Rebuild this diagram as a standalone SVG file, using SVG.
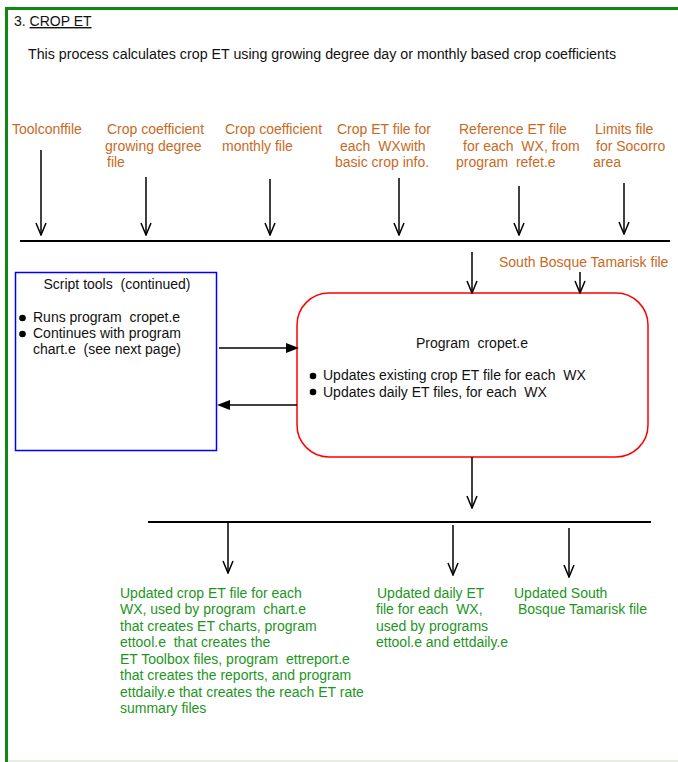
<svg xmlns="http://www.w3.org/2000/svg" width="678" height="762" viewBox="0 0 678 762">
<defs>
<style>
text{font-family:"Liberation Sans",Arial,sans-serif;white-space:pre;}
.t{font-size:14px;fill:#111;}
.o{font-size:14px;fill:#C86A1E;}
.g{font-size:14px;fill:#1E951E;}
.k{font-size:14px;fill:#111;}
.ln{stroke:#000;stroke-width:2;fill:none;}
.ar{stroke:#000;stroke-width:1.5;fill:none;}
</style>
<marker id="v" markerWidth="14" markerHeight="12" refX="13" refY="6" orient="auto" markerUnits="userSpaceOnUse" viewBox="0 0 14 12">
<path d="M1,1 L13,6 L1,11" fill="none" stroke="#000" stroke-width="1.5"/>
</marker>
</defs>
<rect x="0" y="0" width="678" height="762" fill="#fff"/>
<g id="frame">
<path d="M6.5,762 V8.5 H678" fill="none" stroke="#118811" stroke-width="3"/>
<line x1="8" y1="761" x2="678" y2="761" stroke="#d8ead8" stroke-width="1.5"/>
</g>
<g id="title">
<text class="t" x="14" y="26" xml:space="preserve">3. <tspan text-decoration="underline">CROP ET</tspan></text>
<text class="t" x="28" y="59" textLength="588" lengthAdjust="spacingAndGlyphs">This process calculates crop ET using growing degree day or monthly based crop coefficients</text>
</g>
<g id="inputs">
<text class="o" x="12" y="134">Toolconffile</text>
<text class="o" x="107" y="134">Crop coefficient</text>
<text class="o" x="105" y="151">growing degree</text>
<text class="o" x="107" y="167">file</text>
<text class="o" x="225" y="134">Crop coefficient</text>
<text class="o" x="222" y="151">monthly file</text>
<text class="o" x="337" y="134">Crop ET file for</text>
<text class="o" x="340" y="151" xml:space="preserve">each  WXwith</text>
<text class="o" x="335" y="167">basic crop info.</text>
<text class="o" x="459" y="134">Reference ET file</text>
<text class="o" x="463" y="151" xml:space="preserve">for each  WX, from</text>
<text class="o" x="456" y="167" xml:space="preserve">program  refet.e</text>
<text class="o" x="595" y="134">Limits file</text>
<text class="o" x="596" y="151">for Socorro</text>
<text class="o" x="593" y="167">area</text>
<text class="o" x="499" y="267">South Bosque Tamarisk file</text>
</g>
<g id="script-tools">
<rect x="15.5" y="272.5" width="201" height="178" fill="#fff" stroke="#0000ff" stroke-width="1.5"/>
<text class="k" x="117" y="289" text-anchor="middle" xml:space="preserve">Script tools  (continued)</text>
<circle cx="22.5" cy="318" r="3.3" fill="#000"/>
<circle cx="22.5" cy="334" r="3.3" fill="#000"/>
<text class="t" x="33" y="322" xml:space="preserve">Runs program  cropet.e</text>
<text class="t" x="33" y="338">Continues with program</text>
<text class="t" x="33" y="354" xml:space="preserve">chart.e  (see next page)</text>
</g>
<g id="program-cropet">
<rect x="297" y="293" width="351" height="164" rx="32" ry="32" fill="#fff" stroke="#ff0000" stroke-width="1.5"/>
<text class="k" x="472" y="348" text-anchor="middle" xml:space="preserve">Program  cropet.e</text>
<circle cx="313" cy="376" r="3.3" fill="#000"/>
<circle cx="313" cy="392" r="3.3" fill="#000"/>
<text class="k" x="323" y="380" xml:space="preserve">Updates existing crop ET file for each  WX</text>
<text class="k" x="323" y="397" xml:space="preserve">Updates daily ET files, for each  WX</text>
</g>
<g id="outputs">
<text class="g" x="120" y="598">Updated crop ET file for each</text>
<text class="g" x="120" y="614" xml:space="preserve">WX, used by program  chart.e</text>
<text class="g" x="120" y="631">that creates ET charts, program</text>
<text class="g" x="120" y="647" xml:space="preserve">ettool.e  that creates the</text>
<text class="g" x="120" y="664" xml:space="preserve">ET Toolbox files, program  ettreport.e</text>
<text class="g" x="120" y="680">that creates the reports, and program</text>
<text class="g" x="120" y="697">ettdaily.e that creates the reach ET rate</text>
<text class="g" x="120" y="713">summary files</text>
<text class="g" x="377" y="598">Updated daily ET</text>
<text class="g" x="376" y="614" xml:space="preserve">file for each  WX,</text>
<text class="g" x="376" y="631">used by programs</text>
<text class="g" x="376" y="647">ettool.e and ettdaily.e</text>
<text class="g" x="514" y="598">Updated South</text>
<text class="g" x="518" y="614">Bosque Tamarisk file</text>
</g>
<g id="connectors">
<line class="ln" x1="20" y1="241" x2="670" y2="241"/>
<line class="ln" x1="148" y1="522" x2="651" y2="522"/>
<line class="ar" x1="41" y1="150" x2="41" y2="235" marker-end="url(#v)"/>
<line class="ar" x1="146" y1="177" x2="146" y2="235" marker-end="url(#v)"/>
<line class="ar" x1="270" y1="179" x2="270" y2="235" marker-end="url(#v)"/>
<line class="ar" x1="399" y1="178" x2="399" y2="235" marker-end="url(#v)"/>
<line class="ar" x1="519" y1="186" x2="519" y2="235" marker-end="url(#v)"/>
<line class="ar" x1="624" y1="183" x2="624" y2="234" marker-end="url(#v)"/>
<line class="ar" x1="472" y1="252" x2="472" y2="293" marker-end="url(#v)"/>
<line class="ar" x1="580" y1="272" x2="580" y2="293" marker-end="url(#v)"/>
<line class="ar" x1="472" y1="457" x2="472" y2="508" marker-end="url(#v)"/>
<line class="ar" x1="228" y1="523" x2="228" y2="573" marker-end="url(#v)"/>
<line class="ar" x1="453" y1="525" x2="453" y2="575" marker-end="url(#v)"/>
<line class="ar" x1="569" y1="528" x2="569" y2="577" marker-end="url(#v)"/>
<line class="ar" x1="219" y1="348" x2="288" y2="348"/>
<path d="M286,343 L299,348 L286,353 Z" fill="#000"/>
<line class="ar" x1="297" y1="405" x2="228" y2="405"/>
<path d="M230,400 L217,405 L230,410 Z" fill="#000"/>
</g>
</svg>
